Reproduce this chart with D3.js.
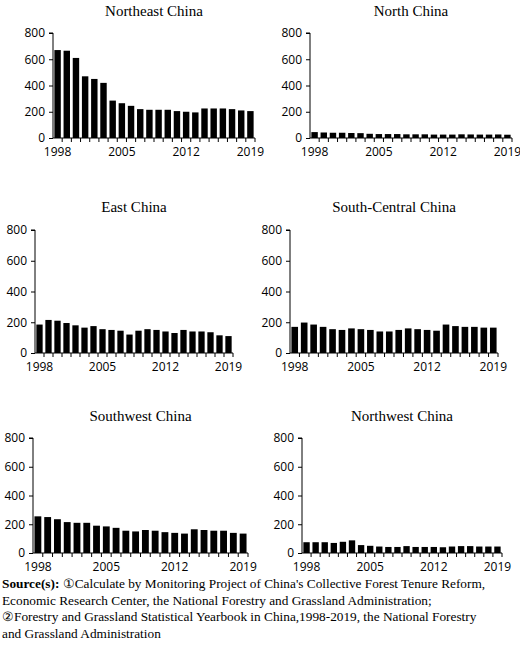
<!DOCTYPE html>
<html><head><meta charset="utf-8">
<script src="https://cdn.jsdelivr.net/npm/d3@7"></script>
<style>
body{margin:0;background:#fff}
.tick text{font-family:"Open Sans",sans-serif;font-size:12px;fill:#000}
.ttl{font-family:"Liberation Serif","Times New Roman",serif;font-size:15px}
.src{font-family:"Liberation Serif","Times New Roman",serif;font-size:13.3px}
</style></head>
<body><svg id="chart" width="520" height="650"></svg>
<script>
const years = d3.range(1998, 2020);
const tickYears = [1998, 2005, 2012, 2019];
const regions = ["Northeast China","North China","East China","South-Central China","Southwest China","Northwest China"];
const northeast = [670,665,610,470,450,420,285,265,245,220,215,215,215,205,200,195,225,225,225,220,210,205];
const north = [45,42,40,40,38,37,32,30,30,30,28,28,28,26,26,26,28,27,26,26,27,25];
const east = [185,215,210,195,180,165,175,155,150,145,120,145,155,150,140,130,150,140,140,135,115,110];
const southCentral = [170,198,185,170,155,150,160,155,150,140,140,150,160,155,150,145,185,175,170,170,165,165];
const southwest = [255,250,235,215,210,210,190,185,175,155,150,160,155,145,140,135,165,160,155,155,140,135];
const northwest = [75,75,75,70,78,88,55,50,45,42,42,48,42,42,42,40,45,48,48,45,45,45];
const series = [northeast, north, east, southCentral, southwest, northwest];
const yTicks = [0,200,400,600,800];

// panel boxes: x0 (axis), x1, top (800), bottom (0), title y
const boxes = [
  [53,255,33,138,16],[310,512,33,138,16],
  [35,233,230,353,212],[290,498,230,353,212],
  [33,248,438,553,421],[302,502,438,553,421]
];
const svg = d3.select("#chart");

series.forEach((vals, k) => {
  const [x0,x1,top,bot,ty] = boxes[k];
  const x = d3.scaleBand().domain(years).range([x0,x1]).paddingInner(0.3).paddingOuter(0.15);
  const y = d3.scaleLinear().domain([0,800]).range([bot,top]);
  const g = svg.append("g");
  g.append("text").attr("class","ttl").attr("x",(x0+x1)/2).attr("y",ty).attr("text-anchor","middle").text(regions[k]);
  g.selectAll("rect").data(vals).join("rect")
    .attr("x",(d,i)=>x(years[i])).attr("width",x.bandwidth())
    .attr("y",d=>y(d)).attr("height",d=>bot-y(d)).attr("fill","#000");
  g.append("g").attr("transform",`translate(${x0},0)`)
    .call(d3.axisLeft(y).tickValues(yTicks).tickSize(4).tickPadding(4))
    .call(a=>a.select(".domain").attr("d",`M-4,${top}H0V${bot}`));
  const xa = g.append("g").attr("transform",`translate(0,${bot})`)
    .call(d3.axisBottom(x).tickSize(4).tickPadding(5).tickFormat(d=>tickYears.includes(d)?d:""));
  xa.select(".domain").attr("d",`M${x0},0H${x1}`);
  xa.selectAll(".tick line").attr("transform",`translate(${x.step()/2},0)`);
});

const src = [
  ["Source(s): ","①Calculate by Monitoring Project of China's Collective Forest Tenure Reform,"],
  ["","Economic Research Center, the National Forestry and Grassland Administration;"],
  ["","②Forestry and Grassland Statistical Yearbook in China,1998-2019, the National Forestry"],
  ["","and Grassland Administration"]
];
src.forEach((l,i)=>{
  const t = svg.append("text").attr("class","src").attr("x",2).attr("y",588+i*16.5);
  if(l[0]) t.append("tspan").attr("font-weight","bold").text(l[0]);
  t.append("tspan").text(l[1]);
});
</script></body></html>
